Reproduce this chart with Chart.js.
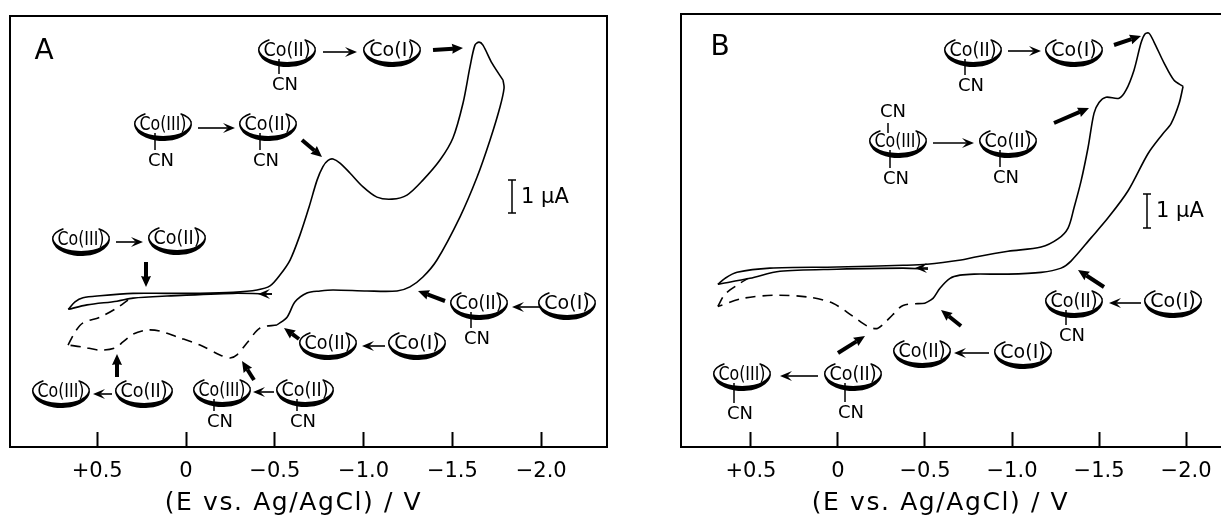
<!DOCTYPE html>
<html><head><meta charset="utf-8">
<script src="https://cdn.jsdelivr.net/npm/chart.js@4"></script>
<style>
html,body{margin:0;padding:0;background:#fff;overflow:hidden;width:1221px;height:518px}
canvas{position:absolute;top:0}
#a{left:0}#b{left:660px}
</style></head><body>
<canvas id="a" width="640" height="518"></canvas>
<canvas id="b" width="600" height="518"></canvas>
<script>
const TICK_VALUES=[0.5,0,-0.5,-1,-1.5,-2];
const TICK_LABELS=['+0.5','0','\u22120.5','\u22121.0','\u22121.5','\u22122.0'];
const AXIS_TITLE='(E vs. Ag/AgCl) / V';

// Panel A: potential (V), current (uA)
const A_FWD_E=[0.663,0.625,0.580,0.484,0.298,0.107,-0.079,-0.265,-0.400,-0.473,-0.529,-0.586,-0.642,-0.693,-0.738,-0.771,-0.800,-0.828,-0.867,-0.923,-0.997,-1.075,-1.160,-1.244,-1.334,-1.430,-1.503,-1.560,-1.599,-1.627,-1.650,-1.672,-1.723,-1.785];
const A_FWD_I=[-0.48,-0.26,-0.14,-0.08,-0.01,-0.01,-0.01,0.02,0.09,0.21,0.53,0.97,1.71,2.53,3.32,3.72,3.90,3.94,3.82,3.53,3.12,2.82,2.76,2.88,3.32,3.91,4.56,5.59,6.65,7.29,7.38,7.29,6.76,6.26];
const A_RET_E=[-1.785,-1.791,-1.768,-1.712,-1.639,-1.543,-1.413,-1.334,-1.261,-1.188,-1.019,-0.828,-0.755,-0.681,-0.614,-0.569,-0.512];
const A_RET_I=[6.26,6.03,5.47,4.50,3.41,2.24,0.97,0.47,0.18,0.06,0.06,0.09,0.06,0,-0.26,-0.71,-0.94];
const A_DASH_E=[-0.512,-0.417,-0.343,-0.287,-0.248,-0.191,-0.079,0.051,0.146,0.220,0.298,0.355,0.400,0.484,0.580,0.664];
const A_DASH_I=[-0.94,-1.03,-1.47,-1.82,-1.91,-1.82,-1.53,-1.29,-1.12,-1.09,-1.21,-1.44,-1.62,-1.68,-1.59,-1.53];
const A_DASH2_E=[0.664,0.625,0.580,0.484,0.389,0.327];
const A_DASH2_I=[-1.53,-1.15,-0.88,-0.71,-0.44,-0.21];
const A_LOW_E=[0.663,0.557,0.389,0.298,0.107,-0.265,-0.484];
const A_LOW_I=[-0.48,-0.35,-0.24,-0.15,-0.09,-0.01,-0.03];

// Panel B: potential (V), current (uA)
const B_FWD_E=[0.690,0.649,0.580,0.391,0.006,-0.374,-0.511,-0.707,-0.782,-0.977,-1.167,-1.264,-1.322,-1.356,-1.397,-1.437,-1.471,-1.500,-1.540,-1.615,-1.655,-1.701,-1.741,-1.764,-1.787,-1.816,-1.874,-1.931,-1.983];
const B_FWD_I=[-0.43,-0.26,-0.09,0.03,0.06,0.11,0.14,0.26,0.34,0.51,0.63,0.86,1.17,1.74,2.51,3.46,4.43,4.74,4.89,4.86,5.09,5.66,6.43,6.69,6.71,6.46,5.86,5.37,5.20];
const B_RET_E=[-1.983,-1.960,-1.914,-1.868,-1.782,-1.667,-1.552,-1.454,-1.339,-1.282,-1.167,-0.977,-0.782,-0.701,-0.644,-0.586,-0.546,-0.500];
const B_RET_I=[5.20,4.71,4.14,3.86,3.29,2.23,1.46,0.89,0.23,0.03,-0.09,-0.14,-0.14,-0.17,-0.26,-0.54,-0.83,-0.97];
const B_DASH_E=[-0.500,-0.374,-0.316,-0.259,-0.224,-0.172,-0.086,0.029,0.161,0.351,0.546,0.690];
const B_DASH_I=[-0.97,-1.03,-1.29,-1.57,-1.69,-1.63,-1.34,-0.97,-0.80,-0.74,-0.83,-1.06];
const B_DASH2_E=[0.690,0.649,0.563,0.517];
const B_DASH2_I=[-1.06,-0.71,-0.40,-0.26];
const B_LOW_E=[0.690,0.506,0.333,0.006,-0.374,-0.517];
const B_LOW_I=[-0.43,-0.26,-0.06,0,0.03,0];

// Schematic annotations (page pixels): [cx, cy, label, CN offset below (0 = none)]
const RINGS_A=[[287,52,'Co(II)',33],[392,52,'Co(I)',0],[163,126,'Co(III)',35],[268,126,'Co(II)',35],[81,241,'Co(III)',0],[177,240,'Co(II)',0],
 [479,305,'Co(II)',34],[567,305,'Co(I)',0],[328,345,'Co(II)',0],[417,345,'Co(I)',0],[61,393,'Co(III)',0],[144,393,'Co(II)',0],[222,392,'Co(III)',30],[305,392,'Co(II)',30]];
const THIN_A=[[323,52,357,52],[198,128,235,128],[116,242,143,242],[540,307,512,307],[385,346,362,346],[112,394,93,394],[274,392,253,392],[272,294,258,294]];
const BOLD_A=[[433,50,463,48],[302,140,322,157],[146,262,146,287],[445,301,418,291],[299,339,284,328],[117,377,117,354],[254,380,242,361]];
const RINGS_B=[[973,52,'Co(II)',34],[1074,52,'Co(I)',0],[898,143,'Co(III)',36],[1008,143,'Co(II)',35],[1074,303,'Co(II)',33],[1173,303,'Co(I)',0],
 [922,353,'Co(II)',0],[1023,354,'Co(I)',0],[742,376,'Co(III)',38],[853,376,'Co(II)',37]];
const THIN_B=[[1008,51,1041,51],[933,143,974,143],[1141,303,1109,303],[989,353,954,353],[818,376,780,376],[928,268,915,268]];
const BOLD_B=[[1114,45,1141,36],[1054,123,1089,108],[1104,287,1078,270],[961,326,941,310],[838,353,865,336]];

const FONT='"DejaVu Sans"';
function ring(ctx,r){
  const [cx,cy,label,cn]=r;
  const d=Math.PI/180;
  ctx.fillStyle='#000';ctx.strokeStyle='#000';
  ctx.beginPath();
  ctx.ellipse(cx,cy-2,29,17,0,-8*d,188*d,false);
  ctx.ellipse(cx,cy-3,27.5,13,0,188*d,-8*d,true);
  ctx.closePath();ctx.fill();
  ctx.lineWidth=1.4;
  ctx.beginPath();ctx.ellipse(cx,cy-2,28.5,13,0,188*d,232*d,false);ctx.stroke();
  ctx.beginPath();ctx.ellipse(cx,cy-2,28.5,13,0,-52*d,-8*d,false);ctx.stroke();
  ctx.font='19px '+FONT;ctx.textAlign='center';ctx.textBaseline='middle';
  ctx.fillText(label,cx,cy-1,47);
  if(cn){
    const sx=cx-8;
    ctx.lineWidth=1.5;
    ctx.beginPath();ctx.moveTo(sx,cy+7);ctx.lineTo(sx,cy+cn-11);ctx.stroke();
    ctx.font='18px '+FONT;
    ctx.fillText('CN',cx-2,cy+cn);
  }
}
function arrow(ctx,a,bold){
  const [x1,y1,x2,y2]=a;
  const t=Math.atan2(y2-y1,x2-x1);const L=bold?11:12,W=bold?5:5;
  const cs=Math.cos(t),sn=Math.sin(t);
  ctx.strokeStyle='#000';ctx.fillStyle='#000';ctx.lineWidth=bold?4:1.6;
  const n=bold?L-1:L*0.6;
  ctx.beginPath();ctx.moveTo(x1,y1);ctx.lineTo(x2-cs*n,y2-sn*n);ctx.stroke();
  ctx.beginPath();ctx.moveTo(x2,y2);
  ctx.lineTo(x2-L*cs-W*sn,y2-L*sn+W*cs);
  ctx.lineTo(x2-n*cs,y2-n*sn);
  ctx.lineTo(x2-L*cs+W*sn,y2-L*sn-W*cs);
  ctx.closePath();ctx.fill();
}
function pts(E,I){return E.map((x,i)=>({x,y:I[i]}));}
function ds(E,I,dash){return {data:pts(E,I),showLine:true,borderColor:'#000',borderWidth:1.6,borderDash:dash?[10,7]:[],tension:0.3,pointRadius:0,fill:false};}

function makeChart(id,cfg){
  const annot={id:'annot',
    beforeDatasetsDraw(chart){
      const c=chart.ctx,a=chart.chartArea;
      c.save();c.strokeStyle='#000';c.lineWidth=2;c.strokeRect(a.left,a.top,a.right-a.left,a.bottom-a.top);c.restore();
    },
    afterDraw(chart){
      const c=chart.ctx;c.save();c.translate(-cfg.offset,0);
      cfg.rings.forEach(r=>ring(c,r));
      cfg.thin.forEach(a=>arrow(c,a,false));
      cfg.bold.forEach(a=>arrow(c,a,true));
      (cfg.extraCN||[]).forEach(p=>{c.font='18px '+FONT;c.textAlign='center';c.textBaseline='middle';c.fillStyle='#000';c.fillText('CN',p[0],p[1]);
        c.lineWidth=1.5;c.beginPath();c.moveTo(p[0]-5,p[1]+11);c.lineTo(p[0]-5,p[1]+21);c.stroke();});
      c.fillStyle='#000';c.font='28px '+FONT;c.textAlign='center';c.textBaseline='middle';
      c.fillText(cfg.letter[0],cfg.letter[1],cfg.letter[2]);
      const [bx,by1,by2]=cfg.bar;
      c.lineWidth=1.5;c.strokeStyle='#000';c.beginPath();
      c.moveTo(bx,by1);c.lineTo(bx,by2);c.moveTo(bx-4,by1);c.lineTo(bx+4,by1);c.moveTo(bx-4,by2);c.lineTo(bx+4,by2);c.stroke();
      c.font='21px '+FONT;c.textAlign='left';c.fillText('1 \u00B5A',bx+9,(by1+by2)/2+1);
      c.restore();
    },
    beforeDraw(chart){
      const s=chart.scales.x;
      if(!s.__w){const o=s.drawTitle;s.__w=1;s.drawTitle=function(){const c=this.ctx;c.save();c.letterSpacing='1.6px';c.translate(cfg.titleDx,0);o.call(this);c.restore();};}
    }};
  return new Chart(document.getElementById(id),{
    type:'scatter',
    data:{datasets:cfg.datasets},
    plugins:[annot],
    options:{responsive:false,animation:false,devicePixelRatio:1,
      layout:{padding:cfg.padding},
      plugins:{legend:{display:false},tooltip:{enabled:false}},
      scales:{
        x:{type:'linear',reverse:true,min:cfg.xmin,max:cfg.xmax,position:'bottom',
          afterBuildTicks(s){s.ticks=TICK_VALUES.map(v=>({value:v}));},
          afterFit(s){s.height=71;},
          grid:{drawOnChartArea:false,drawTicks:true,tickLength:-15,tickWidth:2,tickColor:'#000'},
          border:{display:false},
          ticks:{autoSkip:false,maxRotation:0,color:'#000',padding:27,font:{family:FONT,size:21},
            callback(v){return TICK_LABELS[TICK_VALUES.indexOf(v)];}},
          title:{display:true,text:AXIS_TITLE,color:'#000',font:{family:FONT,size:25},padding:{top:0,bottom:0}}
        },
        y:{type:'linear',display:false,min:cfg.ymin,max:cfg.ymax}
      }}
  });
}
makeChart('a',{offset:0,rings:RINGS_A,thin:THIN_A,bold:BOLD_A,letter:['A',44,52],bar:[512,180,213],titleDx:-15,
  padding:{left:10,right:33,top:16,bottom:0},xmin:-2.3705,xmax:0.991,ymin:-4.529,ymax:8.147,
  datasets:[ds(A_FWD_E,A_FWD_I),ds(A_RET_E,A_RET_I),ds(A_DASH_E,A_DASH_I,1),ds(A_DASH2_E,A_DASH2_I,1),ds(A_LOW_E,A_LOW_I)]});
makeChart('b',{offset:660,rings:RINGS_B,thin:THIN_B,bold:BOLD_B,letter:['B',720,48],bar:[1147,194,228],titleDx:-20,extraCN:[[893,112]],
  padding:{left:21,right:20,top:14,bottom:0},xmin:-2.310,xmax:0.902,ymin:-5.057,ymax:7.257,
  datasets:[ds(B_FWD_E,B_FWD_I),ds(B_RET_E,B_RET_I),ds(B_DASH_E,B_DASH_I,1),ds(B_DASH2_E,B_DASH2_I,1),ds(B_LOW_E,B_LOW_I)]});
</script>
</body></html>
